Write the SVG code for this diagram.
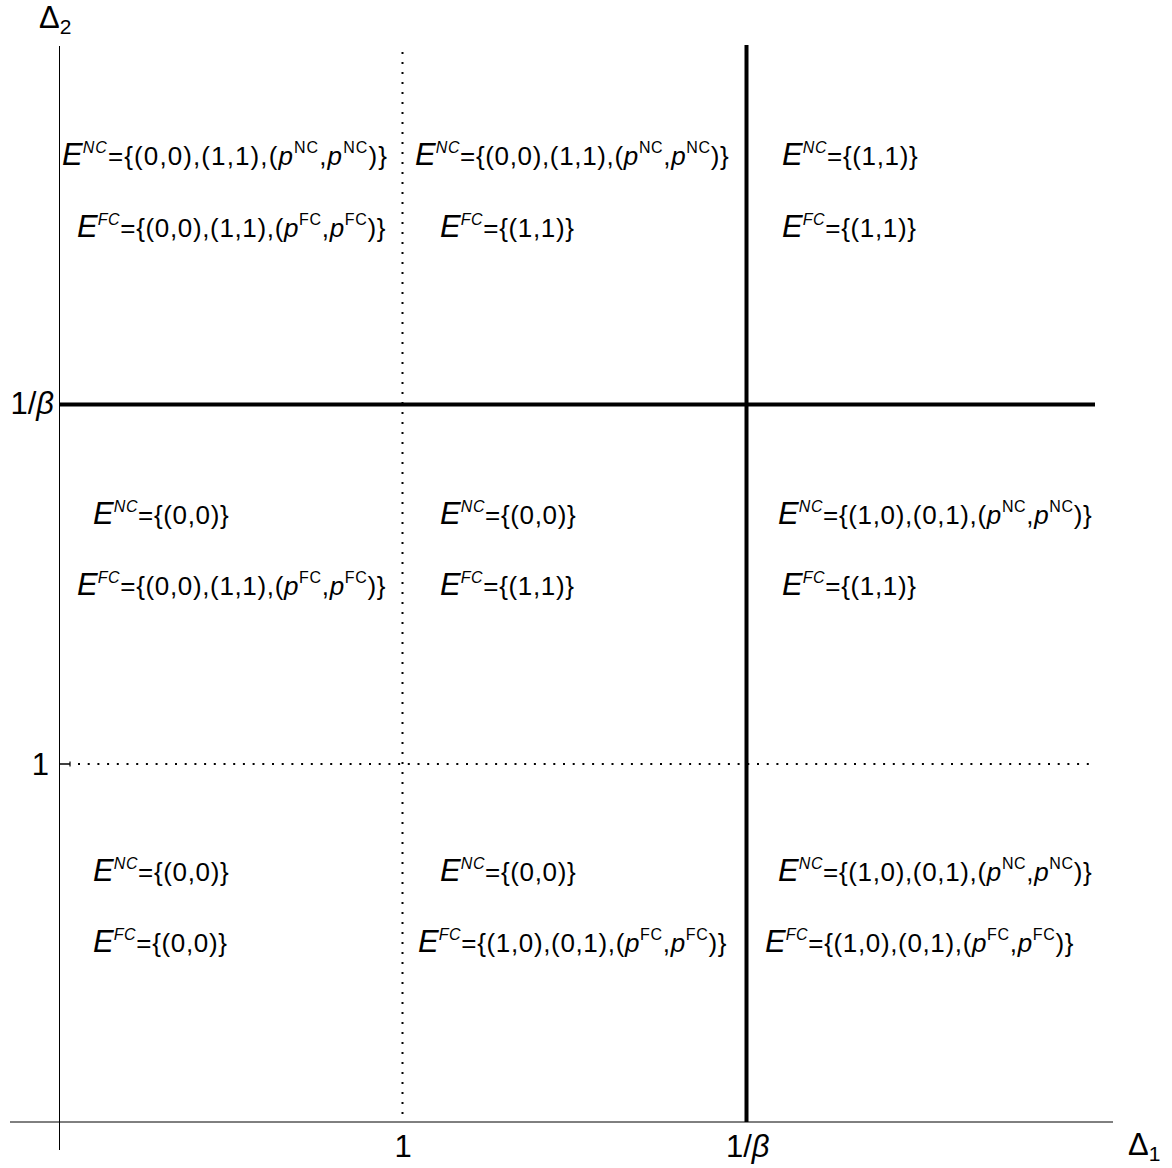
<svg xmlns="http://www.w3.org/2000/svg" width="1172" height="1168" viewBox="0 0 1172 1168">
<style>
text{font-family:"Liberation Sans",Arial,sans-serif;fill:#000}
.t{font-size:26px;letter-spacing:0.65px}
.w{letter-spacing:1.1px}
.e{font-size:31px;font-style:italic;letter-spacing:0}
.ax{font-size:31px}
.i{font-style:italic}
.s{font-size:16px}
.sub{font-size:21px}
</style>
<rect width="1172" height="1168" fill="#fff"/>
<g id="connectors" stroke="#000" fill="none">
<line x1="59.5" y1="46" x2="59.5" y2="1150" stroke-width="1"/>
<line x1="10" y1="1122" x2="1113" y2="1122" stroke-width="1"/>
<line x1="402.5" y1="52" x2="402.5" y2="1122" stroke-width="2" stroke-dasharray="2 8"/>
<line x1="78" y1="764" x2="1090" y2="764" stroke-width="2" stroke-dasharray="2 7.7"/>
<line x1="746.5" y1="45" x2="746.5" y2="1122" stroke-width="4"/>
<line x1="59" y1="404.5" x2="1095" y2="404.5" stroke-width="4"/>
<line x1="60" y1="764" x2="70" y2="764" stroke-width="1.5"/>
<line x1="70" y1="761.5" x2="70" y2="766.5" stroke-width="1.2"/>
</g>
<g id="axes">
<text class="ax" x="39" y="28">Δ<tspan class="sub" dy="6">2</tspan></text>
<text class="ax" x="1128" y="1155">Δ<tspan class="sub" dy="6">1</tspan></text>
<text class="ax" x="54" y="414" text-anchor="end" font-size="32">1/<tspan class="i">β</tspan></text>
<text class="ax" x="49" y="775" text-anchor="end">1</text>
<text class="ax" x="403" y="1157" text-anchor="middle">1</text>
<text class="ax" x="726" y="1157">1/<tspan class="i">β</tspan></text>
</g>
<g id="r1c1"><text class="t w" x="62" y="165"><tspan class="e">E</tspan><tspan class="i s" dy="-12">NC</tspan><tspan dy="12">={(0,0),(1,1),(</tspan><tspan class="i">p</tspan><tspan class="s" dy="-12">NC</tspan><tspan dy="12">,</tspan><tspan class="i">p</tspan><tspan class="s" dy="-12">NC</tspan><tspan dy="12">)}</tspan></text>
<text class="t" x="77" y="237"><tspan class="e">E</tspan><tspan class="i s" dy="-12">FC</tspan><tspan dy="12">={(0,0),(1,1),(</tspan><tspan class="i">p</tspan><tspan class="s" dy="-12">FC</tspan><tspan dy="12">,</tspan><tspan class="i">p</tspan><tspan class="s" dy="-12">FC</tspan><tspan dy="12">)}</tspan></text></g>
<g id="r1c2"><text class="t" x="415" y="165"><tspan class="e">E</tspan><tspan class="i s" dy="-12">NC</tspan><tspan dy="12">={(0,0),(1,1),(</tspan><tspan class="i">p</tspan><tspan class="s" dy="-12">NC</tspan><tspan dy="12">,</tspan><tspan class="i">p</tspan><tspan class="s" dy="-12">NC</tspan><tspan dy="12">)}</tspan></text>
<text class="t" x="440" y="237"><tspan class="e">E</tspan><tspan class="i s" dy="-12">FC</tspan><tspan dy="12">={(1,1)}</tspan></text></g>
<g id="r1c3"><text class="t" x="782" y="165"><tspan class="e">E</tspan><tspan class="i s" dy="-12">NC</tspan><tspan dy="12">={(1,1)}</tspan></text>
<text class="t" x="782" y="237"><tspan class="e">E</tspan><tspan class="i s" dy="-12">FC</tspan><tspan dy="12">={(1,1)}</tspan></text></g>
<g id="r2c1"><text class="t" x="93" y="524"><tspan class="e">E</tspan><tspan class="i s" dy="-12">NC</tspan><tspan dy="12">={(0,0)}</tspan></text>
<text class="t" x="77" y="595"><tspan class="e">E</tspan><tspan class="i s" dy="-12">FC</tspan><tspan dy="12">={(0,0),(1,1),(</tspan><tspan class="i">p</tspan><tspan class="s" dy="-12">FC</tspan><tspan dy="12">,</tspan><tspan class="i">p</tspan><tspan class="s" dy="-12">FC</tspan><tspan dy="12">)}</tspan></text></g>
<g id="r2c2"><text class="t" x="440" y="524"><tspan class="e">E</tspan><tspan class="i s" dy="-12">NC</tspan><tspan dy="12">={(0,0)}</tspan></text>
<text class="t" x="440" y="595"><tspan class="e">E</tspan><tspan class="i s" dy="-12">FC</tspan><tspan dy="12">={(1,1)}</tspan></text></g>
<g id="r2c3"><text class="t" x="778" y="524"><tspan class="e">E</tspan><tspan class="i s" dy="-12">NC</tspan><tspan dy="12">={(1,0),(0,1),(</tspan><tspan class="i">p</tspan><tspan class="s" dy="-12">NC</tspan><tspan dy="12">,</tspan><tspan class="i">p</tspan><tspan class="s" dy="-12">NC</tspan><tspan dy="12">)}</tspan></text>
<text class="t" x="782" y="595"><tspan class="e">E</tspan><tspan class="i s" dy="-12">FC</tspan><tspan dy="12">={(1,1)}</tspan></text></g>
<g id="r3c1"><text class="t" x="93" y="881"><tspan class="e">E</tspan><tspan class="i s" dy="-12">NC</tspan><tspan dy="12">={(0,0)}</tspan></text>
<text class="t" x="93" y="952"><tspan class="e">E</tspan><tspan class="i s" dy="-12">FC</tspan><tspan dy="12">={(0,0)}</tspan></text></g>
<g id="r3c2"><text class="t" x="440" y="881"><tspan class="e">E</tspan><tspan class="i s" dy="-12">NC</tspan><tspan dy="12">={(0,0)}</tspan></text>
<text class="t" x="418" y="952"><tspan class="e">E</tspan><tspan class="i s" dy="-12">FC</tspan><tspan dy="12">={(1,0),(0,1),(</tspan><tspan class="i">p</tspan><tspan class="s" dy="-12">FC</tspan><tspan dy="12">,</tspan><tspan class="i">p</tspan><tspan class="s" dy="-12">FC</tspan><tspan dy="12">)}</tspan></text></g>
<g id="r3c3"><text class="t" x="778" y="881"><tspan class="e">E</tspan><tspan class="i s" dy="-12">NC</tspan><tspan dy="12">={(1,0),(0,1),(</tspan><tspan class="i">p</tspan><tspan class="s" dy="-12">NC</tspan><tspan dy="12">,</tspan><tspan class="i">p</tspan><tspan class="s" dy="-12">NC</tspan><tspan dy="12">)}</tspan></text>
<text class="t" x="765" y="952"><tspan class="e">E</tspan><tspan class="i s" dy="-12">FC</tspan><tspan dy="12">={(1,0),(0,1),(</tspan><tspan class="i">p</tspan><tspan class="s" dy="-12">FC</tspan><tspan dy="12">,</tspan><tspan class="i">p</tspan><tspan class="s" dy="-12">FC</tspan><tspan dy="12">)}</tspan></text></g>
</svg>
